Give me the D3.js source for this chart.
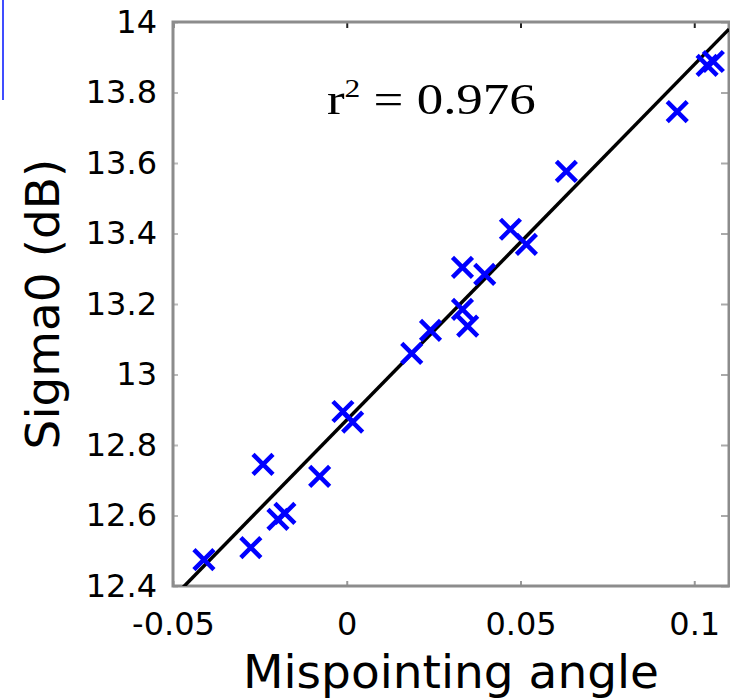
<!DOCTYPE html>
<html>
<head>
<meta charset="utf-8">
<script src="https://cdn.jsdelivr.net/npm/d3@7"></script>
<style>
  body { margin: 0; background: #fff; }
  svg { display: block; }
</style>
</head>
<body>
<div id="chart-container"></div>
<script>
// SIGMA0 vs MISPOINTING scatter //

// points
const mispointing = [-0.0411, -0.0276, -0.0241, -0.0198, -0.0178, -0.0078, -0.0011, 0.0017,
    0.0187, 0.0241, 0.0333, 0.0333, 0.0348, 0.0397, 0.0471, 0.0517, 0.0632, 0.0951, 0.1037, 0.1055];
const sigma0 = [12.475, 12.509, 12.745, 12.589, 12.606, 12.711, 12.895, 12.865,
    13.060, 13.125, 13.304, 13.185, 13.137, 13.284, 13.412, 13.369, 13.576, 13.746, 13.877, 13.888];

// linear fit
const fitSlope = 10.08;
const fitIntercept = 12.871;
const rSquared = "0.976";

// axes
const xDomain = [-0.05, 0.11];
const yDomain = [12.4, 14];
const xTicks = [-0.05, 0, 0.05, 0.1];
const xTickLabels = ["-0.05", "0", "0.05", "0.1"];
const yTicks = [12.4, 12.6, 12.8, 13, 13.2, 13.4, 13.6, 13.8, 14];
const yTickLabels = ["12.4", "12.6", "12.8", "13", "13.2", "13.4", "13.6", "13.8", "14"];

const width = 730;
const height = 699;
const margin = { top: 22, right: 1, bottom: 113, left: 173 };

const svg = d3
    .select("#chart-container")
    .append("svg")
    .attr("width", width)
    .attr("height", height);

const x = d3.scaleLinear().domain(xDomain).range([margin.left, width - margin.right]);
const y = d3.scaleLinear().domain(yDomain).range([height - margin.bottom, margin.top]);

const font = "'DejaVu Sans', Verdana, sans-serif";

// left-over bit of the neighbouring panel
svg.append("line")
    .attr("x1", 3).attr("x2", 3)
    .attr("y1", 0).attr("y2", 100)
    .attr("stroke", "#1122ff")
    .attr("stroke-width", 2)
    .attr("opacity", 0.8);

// clip for the plot area
svg.append("clipPath")
    .attr("id", "plot-clip")
    .append("rect")
    .attr("x", x(xDomain[0]))
    .attr("y", y(yDomain[1]))
    .attr("width", x(xDomain[1]) - x(xDomain[0]))
    .attr("height", y(yDomain[0]) - y(yDomain[1]));

// bottom axis (ticks inward + labels)
const xAxis = svg.append("g")
    .attr("transform", `translate(0, ${y(yDomain[0])})`)
    .call(d3.axisBottom(x).tickValues(xTicks).tickSize(-5).tickFormat((d, i) => xTickLabels[i]));
xAxis.select(".domain").remove();
xAxis.selectAll("line").attr("stroke", "#999").attr("stroke-width", 2);
xAxis.selectAll("text")
    .attr("y", 49)
    .attr("dy", null)
    .attr("fill", "#000")
    .style("font-family", font)
    .style("font-size", "32px");

// top ticks
const xTop = svg.append("g")
    .attr("transform", `translate(0, ${y(yDomain[1])})`)
    .call(d3.axisTop(x).tickValues(xTicks).tickSize(-6).tickFormat(""));
xTop.select(".domain").remove();
xTop.selectAll("line").attr("stroke", "#222").attr("stroke-width", 2);

// left axis
const yAxis = svg.append("g")
    .attr("transform", `translate(${x(xDomain[0])}, 0)`)
    .call(d3.axisLeft(y).tickValues(yTicks).tickSize(-5).tickPadding(16).tickFormat((d, i) => yTickLabels[i]));
yAxis.select(".domain").remove();
yAxis.selectAll("line").attr("stroke", "#bbb").attr("stroke-width", 2);
yAxis.selectAll("text")
    .attr("fill", "#000")
    .style("font-family", font)
    .style("font-size", "32px");

// right ticks
const yRight = svg.append("g")
    .attr("transform", `translate(${x(xDomain[1])}, 0)`)
    .call(d3.axisRight(y).tickValues(yTicks).tickSize(-8).tickFormat(""));
yRight.select(".domain").remove();
yRight.selectAll("line").attr("stroke", "#aaa").attr("stroke-width", 2);

// frame
svg.append("rect")
    .attr("x", x(xDomain[0]))
    .attr("y", y(yDomain[1]))
    .attr("width", x(xDomain[1]) - x(xDomain[0]))
    .attr("height", y(yDomain[0]) - y(yDomain[1]))
    .attr("fill", "none")
    .attr("stroke", "#8c8c8c")
    .attr("stroke-width", 3);

// fit line
svg.append("line")
    .attr("clip-path", "url(#plot-clip)")
    .attr("x1", x(xDomain[0]))
    .attr("y1", y(fitIntercept + fitSlope * xDomain[0]))
    .attr("x2", x(xDomain[1]))
    .attr("y2", y(fitIntercept + fitSlope * xDomain[1]))
    .attr("stroke", "#000")
    .attr("stroke-width", 3.5);

// markers
const pts = mispointing.map((m, i) => ({ m: m, s: sigma0[i] }));
svg.append("g")
    .attr("clip-path", "url(#plot-clip)")
    .selectAll("path")
    .data(pts)
    .join("path")
    .attr("transform", (d) => `translate(${x(d.m)},${y(d.s)})`)
    .attr("d", "M-10,-10L10,10M-10,10L10,-10")
    .attr("stroke", "#0000ff")
    .attr("stroke-width", 4.5)
    .attr("fill", "none");

// r^2 annotation
const rText = svg.append("g")
    .attr("transform", "translate(327, 114) scale(1.26, 1.05)")
    .append("text")
    .style("font-family", "'Liberation Serif', 'Times New Roman', serif")
    .style("font-size", "42px")
    .attr("fill", "#000");
rText.append("tspan").text("r");
rText.append("tspan").attr("dy", -16).style("font-size", "25px").text("2");
rText.append("tspan").attr("dy", 16).text(" = " + rSquared);

// axis titles
svg.append("text")
    .attr("x", (x(xDomain[0]) + x(xDomain[1])) / 2)
    .attr("y", 688)
    .attr("text-anchor", "middle")
    .style("font-family", font)
    .style("font-size", "47px")
    .attr("fill", "#000")
    .text("Mispointing angle");

svg.append("text")
    .attr("transform", `translate(59, ${(y(yDomain[0]) + y(yDomain[1])) / 2}) rotate(-90)`)
    .attr("text-anchor", "middle")
    .style("font-family", font)
    .style("font-size", "47px")
    .attr("fill", "#000")
    .text("Sigma0 (dB)");
</script>
</body>
</html>
